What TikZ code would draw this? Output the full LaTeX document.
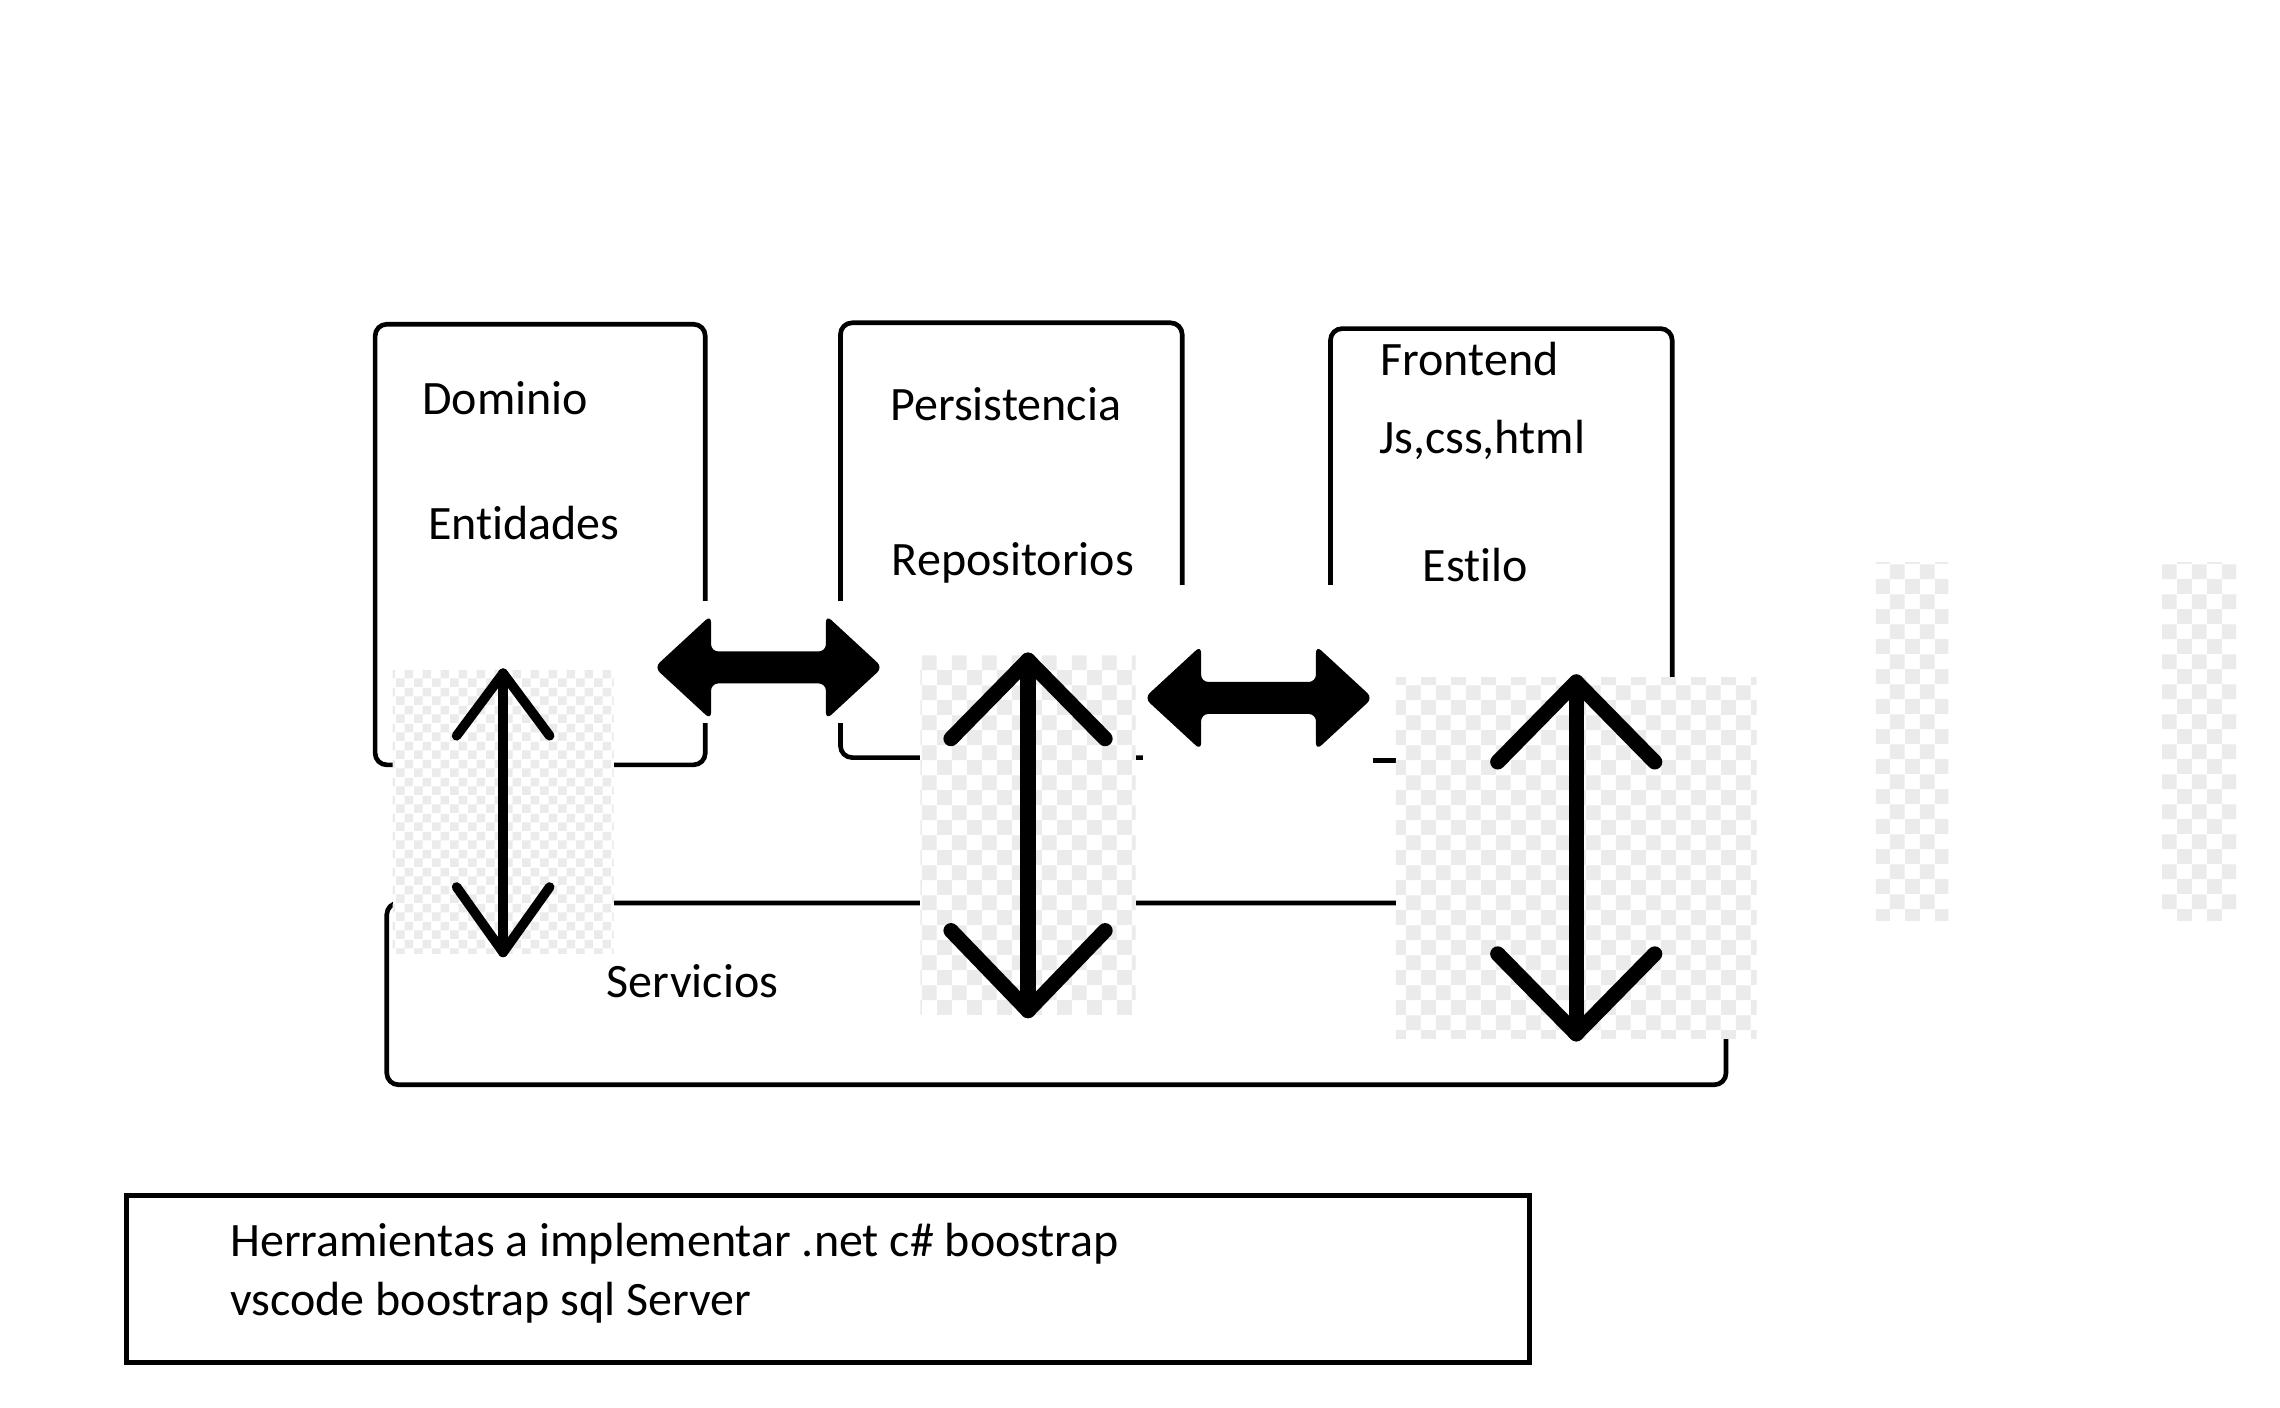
\documentclass[tikz,border=0pt]{standalone}
\usepackage{fontspec}
\setmainfont{Carlito}[Ligatures=NoCommon]
\usetikzlibrary{patterns.meta}

\tikzdeclarepattern{
  name=checkers,
  parameters={\pgfkeysvalueof{/pgf/pattern keys/cell}},
  bounding box={(0pt,0pt) and (2*\pgfkeysvalueof{/pgf/pattern keys/cell},2*\pgfkeysvalueof{/pgf/pattern keys/cell})},
  tile size={(2*\pgfkeysvalueof{/pgf/pattern keys/cell},2*\pgfkeysvalueof{/pgf/pattern keys/cell})},
  defaults={cell/.initial=4pt},
  code={
    \pgfmathsetlengthmacro\cellsz{\pgfkeysvalueof{/pgf/pattern keys/cell}}
    \fill (0pt,0pt) rectangle (\cellsz,\cellsz);
    \fill (\cellsz,\cellsz) rectangle (2*\cellsz,2*\cellsz);
  }
}

\begin{document}
\begin{tikzpicture}[x=0.5pt,y=-0.5pt,
  box/.style={black, line width=1.6pt, rounded corners=4pt},
  txt/.style={anchor=base west, inner sep=0pt, font=\fontsize{16.5}{19}\selectfont},
  checkered/.style={fill=white, postaction={pattern={checkers[cell=#1]}, pattern color=gray!16}},
  fat/.style={fill=black, rounded corners=2.5pt},
  thin arrow/.style={line width=3.3pt, line cap=round, line join=round},
  thick arrow/.style={line width=5.2pt, line cap=round, line join=round}]
\useasboundingbox (0,0) rectangle (1568,968);

% capas
\draw[box] (258,223) rectangle (485,526);
\draw[box] (578,222) rectangle (813,521);
\draw[box] (915,226) rectangle (1150,523);
\draw[box] (266,621) rectangle (1187,746);
\draw[line width=1.6pt] (87,822) rectangle (1052,937);

% fondos blancos de las flechas
\fill[white] (448,413) rectangle (609,497);
\fill[white] (786,402) rectangle (944,530);

\path[checkered=3.1pt] (270,461) rectangle (422,656);
\path[checkered=5.2pt] (633,451) rectangle (781,698);
\path[checkered=5.2pt] (960,466) rectangle (1208,714);
\path[checkered=5.2pt] (1290,387) rectangle (1340,633);
\path[checkered=5.2pt] (1487,387) rectangle (1538,633);

% flechas horizontales
\coordinate (h1l) at (450,459);
\coordinate (h1r) at (607,459);
\coordinate (h2l) at (787,480);
\coordinate (h2r) at (944,480);
\foreach \l/\r in {h1l/h1r,h2l/h2r}
  \fill[fat] (\l) -- ++(39,-36) -- ++(0,25) -- ++(79,0) -- ++(0,-25) -- (\r)
    -- ++(-39,36) -- ++(0,-25) -- ++(-79,0) -- ++(0,25) -- cycle;

% flechas verticales
\coordinate (v1top) at (346,463);
\coordinate (v1bot) at (346,655);
\coordinate (v2top) at (707,454);
\coordinate (v2bot) at (707,695);
\coordinate (v3top) at (1084,469);
\coordinate (v3bot) at (1084,711);
\draw[thin arrow] (v1top) -- (v1bot);
\draw[thin arrow] (v1top) ++(-32,43) -- (v1top) -- ++(32,43);
\draw[thin arrow] (v1bot) ++(-32,-45) -- (v1bot) -- ++(32,-45);
\draw[thick arrow] (v2top) -- (v2bot);
\draw[thick arrow] (v2top) ++(-53,54) -- (v2top) -- ++(53,54);
\draw[thick arrow] (v2bot) ++(-53,-55) -- (v2bot) -- ++(53,-55);
\draw[thick arrow] (v3top) -- (v3bot);
\draw[thick arrow] (v3top) ++(-54,55) -- (v3top) -- ++(54,55);
\draw[thick arrow] (v3bot) ++(-54,-55) -- (v3bot) -- ++(54,-55);

% textos
\node[txt] (dominio) at (290,285) {Dominio};
\node[txt] (entidades) at (294,371) {Entidades};
\node[txt] (persistencia) at (612,289) {Persistencia};
\node[txt] (repositorios) at (613,396) {Repositorios};
\node[txt] (frontend) at (949,258) {Frontend};
\node[txt] (jscss) at (948,312) {Js,css,html};
\node[txt] (estilo) at (978,400) {Estilo};
\node[txt] (servicios) at (417,686) {Servicios};
\node[txt] (herr1) at (158,864) {Herramientas a implementar .net c\# boostrap};
\node[txt] (herr2) at (158,905) {vscode boostrap sql Server};
\end{tikzpicture}
\end{document}
